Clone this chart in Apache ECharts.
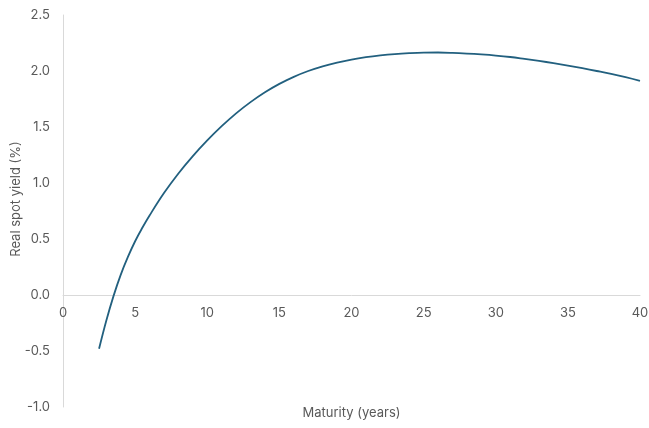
<!DOCTYPE html>
<html>
<head>
<meta charset="utf-8">
<script src="https://cdn.jsdelivr.net/npm/echarts@6/dist/echarts.min.js"></script>
<style>
  html, body { margin: 0; padding: 0; background: #fff; }
  #chart { width: 649px; height: 428px; }
</style>
</head>
<body>
<div id="chart"></div>
<script>
// Maturity in years and the matching real spot yield in percent
const maturities = [2.5, 3, 3.5, 4, 4.5, 5, 5.5, 6, 7, 8, 9, 10, 11, 12, 13, 14, 15, 16, 17, 18, 19, 20,
  21, 22, 23, 24, 25, 26, 27, 28, 29, 30, 31, 32, 33, 34, 35, 36, 37, 38, 39, 40];
const realSpotYield = [-0.48, -0.23, -0.01, 0.18, 0.34, 0.48, 0.60, 0.71, 0.91, 1.085, 1.24, 1.38, 1.507,
  1.622, 1.722, 1.81, 1.885, 1.948, 2.0, 2.042, 2.075, 2.102, 2.123, 2.139, 2.151, 2.159, 2.164, 2.165,
  2.162, 2.156, 2.148, 2.138, 2.125, 2.108, 2.09, 2.07, 2.048, 2.025, 2.0, 1.974, 1.945, 1.912];

const xTicks = { min: 0, max: 40, step: 5 };
const yTicks = { min: -1.0, max: 2.5, step: 0.5 };

const points = maturities.map((m, i) => [m, realSpotYield[i]]);

const labelColor = '#595959';
const axisLineColor = '#d9d9d9';
const fontFamily = 'Inter, "Open Sans", sans-serif';

const chartW = 649, chartH = 428;
const grid = { left: 63, right: 9, top: 15, bottom: 21 };
// The maturity axis sits on the y = 0 line: lift it from the grid bottom by that distance
const plotH = chartH - grid.top - grid.bottom;
const zeroLift = plotH * (0 - yTicks.min) / (yTicks.max - yTicks.min);

const chart = echarts.init(document.getElementById('chart'), null, { renderer: 'canvas' });
chart.setOption({
  animation: false,
  backgroundColor: '#ffffff',
  grid: Object.assign({ containLabel: false, outerBoundsMode: 'none' }, grid),
  xAxis: {
    type: 'value',
    min: xTicks.min,
    max: xTicks.max,
    interval: xTicks.step,
    position: 'bottom',
    offset: -zeroLift,
    name: 'Maturity (years)',
    nameLocation: 'middle',
    nameGap: 112,
    nameTextStyle: { color: labelColor, fontSize: 13, fontFamily },
    axisLine: { show: true, onZero: false, lineStyle: { color: axisLineColor, width: 1 } },
    axisTick: { show: false },
    splitLine: { show: false },
    axisLabel: { color: labelColor, fontSize: 13, fontFamily, margin: 12 }
  },
  yAxis: {
    type: 'value',
    min: yTicks.min,
    max: yTicks.max,
    interval: yTicks.step,
    name: 'Real spot yield (%)',
    nameLocation: 'middle',
    nameGap: 40,
    nameMoveOverlap: false,
    nameTextStyle: { color: labelColor, fontSize: 13, fontFamily, padding: [0, 0, 0, 24] },
    axisLine: { show: true, onZero: false, lineStyle: { color: axisLineColor, width: 1 } },
    axisTick: { show: false },
    splitLine: { show: false },
    axisLabel: {
      color: labelColor, fontSize: 13, fontFamily, margin: 13,
      formatter: v => v.toFixed(1)
    }
  },
  series: [{
    type: 'line',
    data: points,
    smooth: 0.4,
    showSymbol: false,
    lineStyle: { color: '#22607f', width: 1.8 },
    itemStyle: { color: '#22607f' }
  }]
});
</script>
</body>
</html>
